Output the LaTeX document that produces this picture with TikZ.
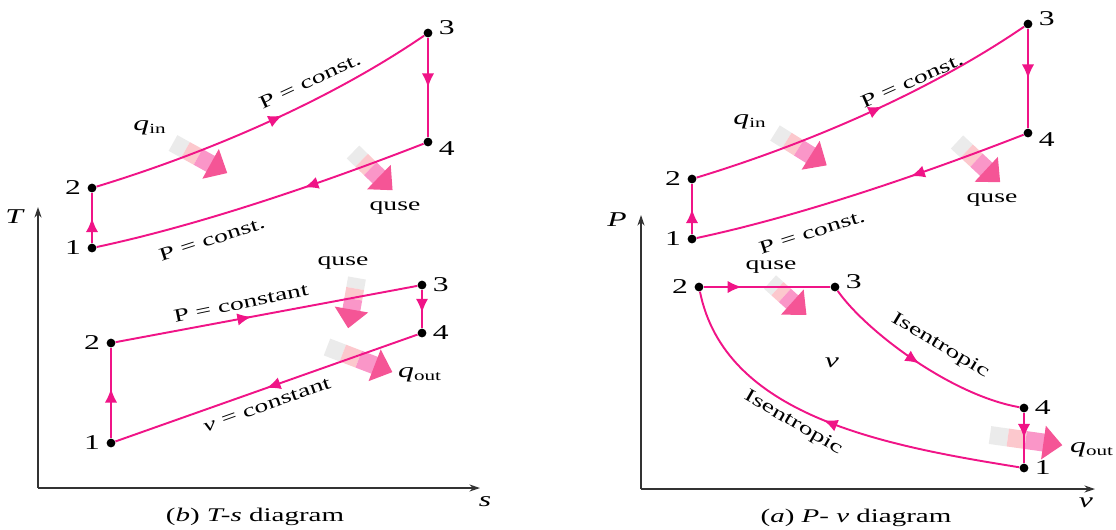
\documentclass[tikz,border=0pt]{standalone}
\usepackage{fontspec}
\setmainfont{Liberation Serif}[FakeStretch=1.5]
\usetikzlibrary{arrows.meta,decorations.markings,positioning}

\definecolor{cycpink}{RGB}{240,20,135}
\definecolor{heatA}{RGB}{235,235,235}
\definecolor{heatB}{RGB}{252,200,205}
\definecolor{heatC}{RGB}{250,150,200}
\definecolor{heatD}{RGB}{245,85,150}

% heat arrow: tail x, tail y, angle, length (all in px units of the picture)
\newcommand{\heatarrow}[4]{%
  \begin{scope}[shift={(#1,#2)},rotate=#3]
    \pgfmathsetmacro{\hb}{(#4-19)/3}
    \fill[heatA] (0,-9) rectangle (\hb,9);
    \fill[heatB] (\hb,-9) rectangle ({2*\hb},9);
    \fill[heatC] ({2*\hb},-9) rectangle ({3*\hb+0.5},9);
    \fill[heatD] ({3*\hb},-17) -- (#4,0) -- ({3*\hb},17) -- cycle;
  \end{scope}}

\begin{document}
\begin{tikzpicture}[x=0.02cm,y=-0.02cm,>=Latex,font=\fontsize{10.5}{12}\selectfont,
  dot/.style={circle,fill=black,inner sep=0pt,minimum size=5pt},
  every label/.style={font=\fontsize{12}{14}\selectfont},
  cyc/.style={color=cycpink,line width=1.1pt},
  midarr/.style={postaction={decorate},decoration={markings,mark=at position #1 with {\arrow{Latex[length=8pt,width=7pt]}}}},
  midarr/.default=0.5,
  axis/.style={draw=black!80,line width=0.8pt,-{Stealth[length=6pt,width=4pt]}},
  qlbl/.style={font=\fontsize{12}{14}\selectfont},
  capt/.style={font=\fontsize{11}{13}\selectfont}]
  \useasboundingbox (0,0) rectangle (1116,529);

  % ---- (b) T-s diagram ----
  \coordinate (to) at (38,488); \coordinate (tT) at (38,207); \coordinate (ts) at (480,488);
  \draw[axis] (to) -- (tT); \draw[axis] (to) -- (ts);
  \node[qlbl] (Tlab) at (15,217) {\textit{T}};
  \node[qlbl] (slab) at (485,502) {\textit{s}};
  \node[capt] (tcap) at (255,517) {(\textit{b}) \textit{T-s} diagram};

  \heatarrow{173}{143}{-29}{62}
  \heatarrow{353}{152}{-44}{55}
  \heatarrow{357}{278}{-100}{51}
  \heatarrow{327}{347}{-21}{70}

  \node[dot,label={left:1}] (t1) at (92,248) {};
  \node[dot,label={left:2}] (t2) at (92,188) {};
  \node[dot,label={[yshift=3pt]right:3}] (t3) at (428,33) {};
  \node[dot,label={[yshift=-4pt]right:4}] (t4) at (428,142) {};
  \draw[cyc,midarr] (t1) -- (t2);
  \draw[cyc,midarr=0.55] (t2) .. controls (210,152) and (330,100) .. (t3);
  \draw[cyc,midarr] (t3) -- (t4);
  \draw[cyc,midarr=0.37] (t4) .. controls (320,184) and (200,225) .. (t1);
  \node[rotate=25] (t23lbl) at (310,81) {P = const.};
  \node[rotate=18] (t41lbl) at (212,239) {P = const.};
  \node[qlbl] (tqin) at (150,128) {\textit{q}\textsubscript{in}};
  \node (tquse) at (395,208) {quse};

  \node[dot,label={left:1}] (tb1) at (111,443) {};
  \node[dot,label={left:2}] (tb2) at (111,343) {};
  \node[dot,label={right:3}] (tb3) at (422,285) {};
  \node[dot,label={right:4}] (tb4) at (422,333) {};
  \draw[cyc,midarr=0.55] (tb1) -- (tb2);
  \draw[cyc,midarr=0.45] (tb2) -- (tb3);
  \draw[cyc,midarr=0.6] (tb3) -- (tb4);
  \draw[cyc,midarr] (tb4) -- (tb1);
  \node[rotate=11.7] (tb23lbl) at (241,303) {P = constant};
  \node[rotate=19.5] (tb41lbl) at (267,405) {\textit{v} = constant};
  \node (tbquse) at (343,263) {quse};
  \node[qlbl] (tbqout) at (420,375) {\textit{q}\textsubscript{out}};

  % ---- (a) P-v diagram ----
  \coordinate (po) at (641,489); \coordinate (pP) at (641,215); \coordinate (pv) at (1095,489);
  \draw[axis] (po) -- (pP); \draw[axis] (po) -- (pv);
  \node[qlbl] (Plab) at (617,220) {\textit{P}};
  \node[qlbl] (vlab) at (1086,503) {\textit{v}};
  \node[capt] (pcap) at (856,518) {(\textit{a}) \textit{P}- \textit{v} diagram};

  \heatarrow{775}{133}{-32}{61}
  \heatarrow{957}{142}{-43}{59}
  \heatarrow{770}{282}{-42}{49}
  \heatarrow{990}{435}{-8}{73}

  \node[dot,label={left:1}] (p1) at (692,239) {};
  \node[dot,label={left:2}] (p2) at (692,179) {};
  \node[dot,label={[yshift=3pt]right:3}] (p3) at (1028,24) {};
  \node[dot,label={[yshift=-4pt]right:4}] (p4) at (1028,133) {};
  \draw[cyc,midarr] (p1) -- (p2);
  \draw[cyc,midarr=0.55] (p2) .. controls (810,143) and (930,91) .. (p3);
  \draw[cyc,midarr] (p3) -- (p4);
  \draw[cyc,midarr=0.35] (p4) .. controls (920,175) and (800,216) .. (p1);
  \node[rotate=24] (p23lbl) at (912,81) {P = const.};
  \node[rotate=17.6] (p41lbl) at (812,232) {P = const.};
  \node[qlbl] (pqin) at (750,122) {\textit{q}\textsubscript{in}};
  \node (pquse) at (992,200) {quse};

  \node[dot,label={left:2}] (pb2) at (699,287) {};
  \node[dot,label={[yshift=3pt]right:3}] (pb3) at (835,287) {};
  \node[dot,label={right:4}] (pb4) at (1024,408) {};
  \node[dot,label={right:1}] (pb1) at (1024,468) {};
  \draw[cyc,midarr=0.3] (pb2) -- (pb3);
  \draw[cyc,midarr=0.5] (pb3) .. controls (865,330) and (950,395) .. (pb4);
  \draw[cyc,midarr=0.5] (pb4) -- (pb1);
  \draw[cyc,midarr=0.52] (pb1) .. controls (880,445) and (725,415) .. (pb2);
  \node[rotate=-31] (pb34lbl) at (940,346) {Isentropic};
  \node[rotate=-30] (pb12lbl) at (793,423) {Isentropic};
  \node[qlbl] (pbnu) at (832,363) {\textit{v}};
  \node (pbquse) at (771,267) {quse};
  \node[qlbl] (pbqout) at (1092,450) {\textit{q}\textsubscript{out}};
\end{tikzpicture}
\end{document}
